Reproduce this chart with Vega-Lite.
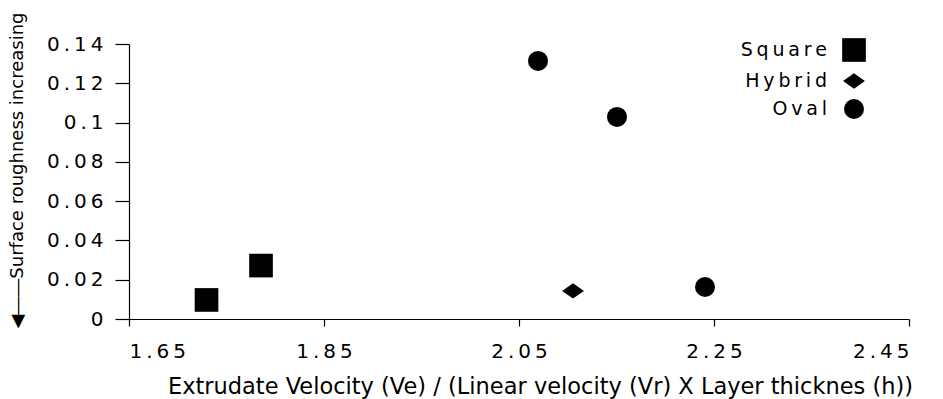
{
  "$schema": "https://vega.github.io/schema/vega-lite/v6.json",
  "width": 780,
  "height": 275,
  "autosize": {"type": "none"},
  "padding": {"left": 129, "top": 44, "right": 34, "bottom": 80},
  "background": "white",
  "config": {"view": {"stroke": null}, "font": "DejaVu Sans"},
  "data": {"values": [
    {"type": "Square", "ratio": 1.7295, "roughness": 0.0097},
    {"type": "Square", "ratio": 1.7854, "roughness": 0.0272},
    {"type": "Hybrid", "ratio": 2.1054, "roughness": 0.0143},
    {"type": "Oval", "ratio": 2.0695, "roughness": 0.1314},
    {"type": "Oval", "ratio": 2.1505, "roughness": 0.1029},
    {"type": "Oval", "ratio": 2.2408, "roughness": 0.0163}
  ]},
  "mark": {"type": "point", "filled": true, "color": "black", "opacity": 1},
  "encoding": {
    "x": {
      "field": "ratio", "type": "quantitative",
      "scale": {"domain": [1.65, 2.45], "nice": false, "zero": false},
      "axis": {
        "title": "Extrudate Velocity (Ve) / (Linear velocity (Vr) X Layer thicknes (h))",
        "values": [1.65, 1.85, 2.05, 2.25, 2.45],
        "format": ".2f",
        "labelExpr": "join(split(datum.label, ''), '\u2009')",
        "grid": false,
        "domainColor": "black", "domainWidth": 1.2,
        "tickColor": "black", "tickSize": 7, "tickWidth": 1.2,
        "labelFont": "DejaVu Sans", "labelFontSize": 20, "labelColor": "black", "labelPadding": 15,
        "titleFont": "DejaVu Sans", "titleFontSize": 22.5, "titleFontWeight": "normal", "titleColor": "black",
        "titleX": 411, "titleY": 74, "titleAlign": "center", "titleBaseline": "alphabetic"
      }
    },
    "y": {
      "field": "roughness", "type": "quantitative",
      "scale": {"domain": [0, 0.14], "nice": false},
      "axis": {
        "title": "\u25c0\u2015\u2015Surface roughness increasing",
        "values": [0, 0.02, 0.04, 0.06, 0.08, 0.1, 0.12, 0.14],
        "format": "~g",
        "labelExpr": "join(split(datum.label, ''), '\u2009')",
        "grid": false,
        "domainColor": "black", "domainWidth": 1.2,
        "tickColor": "black", "tickSize": 14, "tickWidth": 1.2,
        "labelFont": "DejaVu Sans", "labelFontSize": 20, "labelColor": "black", "labelPadding": 12,
        "titleFont": "DejaVu Sans", "titleFontSize": 18, "titleFontWeight": "normal", "titleColor": "black",
        "titleX": -112, "titleY": 126, "titleAngle": -90, "titleAlign": "center", "titleBaseline": "middle"
      }
    },
    "shape": {
      "field": "type", "type": "nominal",
      "scale": {"domain": ["Square", "Hybrid", "Oval"], "range": ["square", "M-1,0L0,-0.7L1,0L0,0.7Z", "circle"]},
      "legend": {
        "title": null,
        "orient": "none", "legendX": 712, "legendY": -7,
        "labelAlign": "right", "labelOffset": -40,
        "labelExpr": "join(split(datum.label, ''), '\u2009')",
        "labelFont": "DejaVu Sans", "labelFontSize": 19, "labelColor": "black",
        "rowPadding": 4, "padding": 0,
        "symbolFillColor": "black", "symbolStrokeColor": "black", "symbolOpacity": 1
      }
    },
    "size": {
      "field": "type", "type": "nominal",
      "scale": {"domain": ["Square", "Hybrid", "Oval"], "range": [560, 400, 290]},
      "legend": {
        "title": null,
        "orient": "none", "legendX": 712, "legendY": -7,
        "labelAlign": "right", "labelOffset": -40,
        "labelExpr": "join(split(datum.label, ''), '\u2009')",
        "labelFont": "DejaVu Sans", "labelFontSize": 19, "labelColor": "black",
        "rowPadding": 4, "padding": 0,
        "symbolFillColor": "black", "symbolStrokeColor": "black", "symbolOpacity": 1
      }
    }
  }
}
